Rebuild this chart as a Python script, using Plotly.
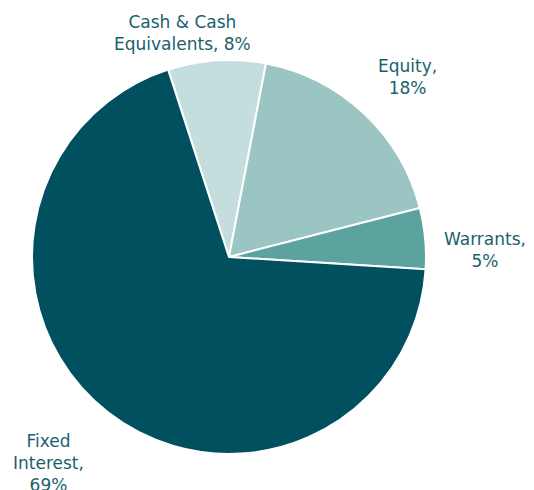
import plotly.graph_objects as go

W, H = 534, 490
OFF = 8  # page body margin offset

categories = ["Cash & Cash Equivalents", "Equity", "Warrants", "Fixed Interest"]
values = [8, 18, 5, 69]
label_texts = ["Cash & Cash<br>Equivalents, 8%", "Equity,<br>18%", "Warrants,<br>5%", "Fixed<br>Interest,<br>69%"]
colors = ["#C4DEDD", "#9BC5C2", "#5CA39F", "#01505F"]

# label centre positions in pixels (x, y from top) on the final picture
label_px = [(182, 33), (407, 77), (485, 250), (48, 463)]

cx, cy, r = 229 - OFF, 257 - OFF, 197

fig = go.Figure(go.Pie(
    labels=categories,
    values=values,
    sort=False,
    direction="clockwise",
    rotation=-18,
    textinfo="none",
    hoverinfo="label+percent",
    marker=dict(colors=colors, line=dict(color="white", width=2)),
    domain=dict(x=[(cx - r) / W, (cx + r) / W], y=[1 - (cy + r) / H, 1 - (cy - r) / H]),
    showlegend=False,
))

annotations = []
for txt, (px, py) in zip(label_texts, label_px):
    annotations.append(dict(
        text=txt, x=(px - OFF) / W, y=1 - (py - OFF) / H, xref="paper", yref="paper",
        xanchor="center", yanchor="middle", showarrow=False, align="center",
        font=dict(family="DejaVu Sans", size=17, color="#1B5F6E"),
    ))

fig.update_layout(
    width=W, height=H,
    margin=dict(l=0, r=0, t=0, b=0),
    paper_bgcolor="white",
    annotations=annotations,
)

fig.write_html("out.html")
